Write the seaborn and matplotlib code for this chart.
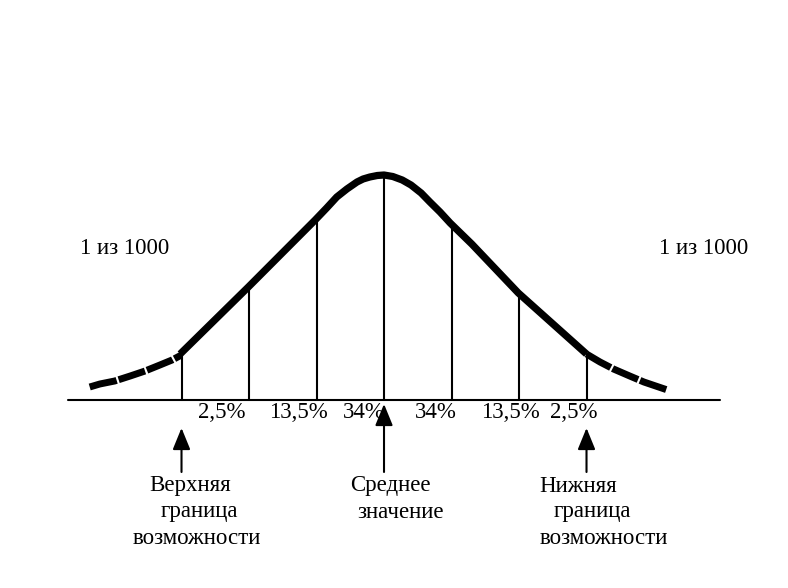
import numpy as np
import pandas as pd
import matplotlib.pyplot as plt
import seaborn as sns

#%% data (x in sigma units, y = height above baseline)
tail_l_x = [-4.36, -4.21, -3.99, -3.76, -3.54, -3.32, -3.14, -3.0]
tail_l_y = [13, 16, 19, 24, 29, 35, 40, 45]

main_x = [-3.02, -2.01, -1.36, -1.02, -0.85, -0.70, -0.55, -0.40, -0.31, -0.21,
          -0.10, 0.0, 0.13, 0.27, 0.40, 0.55, 0.68, 0.83, 0.98, 1.30, 1.99, 3.0]
main_y = [46, 113, 157, 180, 192, 203, 211, 218, 221, 223,
          224.5, 225, 223.5, 220, 215, 207, 198, 188, 177, 156, 107, 46]

tail_r_x = [3.0, 3.2, 3.4, 3.64, 3.85, 4.2]
tail_r_y = [46, 38, 31, 24, 18, 10]

sigmas = [-3, -2, -1, 0, 1, 2, 3]

pct_labels = ["2,5%", "13,5%", "34%", "34%", "13,5%", "2,5%"]
pct_x = [-2.41, -1.27, -0.30, 0.77, 1.87, 2.81]

side_label = "1 из 1000"

arrow_x = [-3, 0, 3]
arrow_tip = [-28, -4, -28]

left_lines = ["Верхняя", "граница", "возможности"]
left_lx = [-2.87, -2.73, -2.77]
mid_lines = ["Среднее", "значение"]
mid_lx = [0.10, 0.25]
right_lines = ["Нижняя", "граница", "возможности"]
right_lx = [2.87, 3.08, 3.26]
line_y = [-86, -112, -138]

#%% style
sns.set_theme(style="white")
plt.rcParams['font.family'] = ['Liberation Serif', 'DejaVu Serif']
plt.rcParams['text.color'] = 'black'

fig = plt.figure(figsize=(7.88, 5.88), dpi=100)
ax = fig.add_axes([0, 0, 1, 1])
ax.set_xlim(-5.689, 5.985)
ax.set_ylim(-188, 400)
ax.axis('off')

curve = pd.DataFrame({'x': main_x, 'y': main_y})
left = pd.DataFrame({'x': tail_l_x, 'y': tail_l_y})
right = pd.DataFrame({'x': tail_r_x, 'y': tail_r_y})

sns.lineplot(data=curve, x='x', y='y', sort=False, ax=ax, color='black',
             lw=5.2, solid_capstyle='butt', solid_joinstyle='round')
for d in (left, right):
    sns.lineplot(data=d, x='x', y='y', sort=False, ax=ax, color='black',
                 lw=5.0, linestyle=(0, (4, 0.3)), dash_capstyle='butt')

# baseline
ax.plot([-4.68, 4.98], [0, 0], color='black', lw=1.5)

# vertical lines up to the curve
for s in sigmas:
    top = np.interp(s, main_x, main_y)
    ax.plot([s, s], [0, top], color='black', lw=1.5)

fs = 16.5

# percent labels
for lab, x in zip(pct_labels, pct_x):
    ax.text(x, -13, lab, ha='center', va='center', fontsize=fs, color='black')

ax.text(-3.85, 152, side_label, ha='center', va='center', fontsize=fs, color='black')
ax.text(4.74, 152, side_label, ha='center', va='center', fontsize=fs, color='black')

# arrows
for x, tip in zip(arrow_x, arrow_tip):
    ax.annotate('', xy=(x, tip), xytext=(x, -72),
                arrowprops=dict(arrowstyle='-|>,head_length=1.1,head_width=0.45',
                                color='black', lw=1.5, shrinkA=0, shrinkB=0))

# bottom captions
for lines, xs in ((left_lines, left_lx), (mid_lines, mid_lx), (right_lines, right_lx)):
    for t, x, y in zip(lines, xs, line_y):
        ax.text(x, y, t, ha='center', va='center', fontsize=fs, color='black')

fig.savefig('out.png', dpi=100)
